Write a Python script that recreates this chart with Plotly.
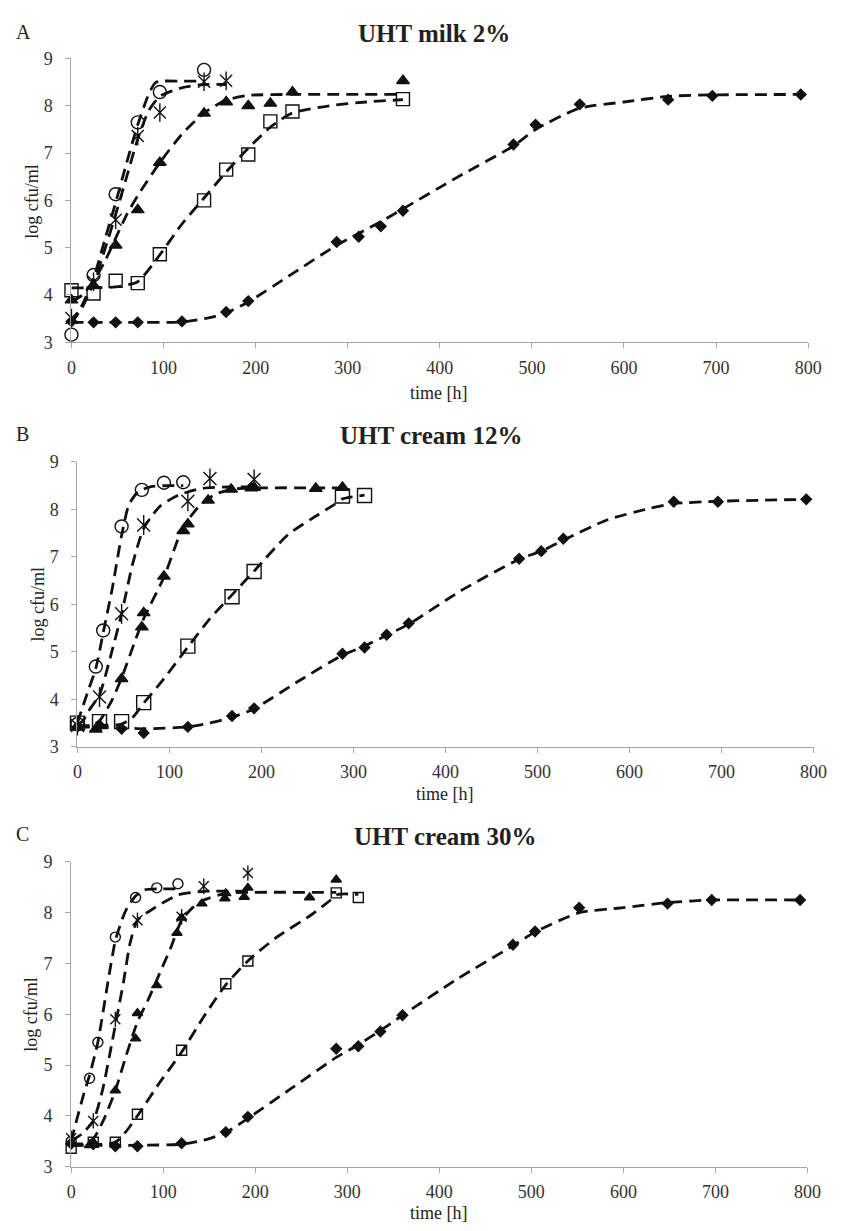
import plotly.graph_objects as go

W, H = 841, 1231

# ---------------- measured points: time [h], log cfu/ml ----------------
# Panel A: UHT milk 2%
A_circ_t = [0, 24, 48, 72, 96, 144]
A_circ_v = [3.16, 4.42, 6.13, 7.65, 8.29, 8.76]
A_star_t = [0, 24, 48, 72, 96, 144, 168]
A_star_v = [3.51, 4.28, 5.59, 7.36, 7.86, 8.51, 8.53]
A_tri_t = [0, 24, 48, 72, 96, 144, 168, 192, 216, 240, 360]
A_tri_v = [3.89, 4.20, 5.05, 5.80, 6.80, 7.84, 8.08, 8.00, 8.05, 8.29, 8.53]
A_sq_t = [0, 24, 48, 72, 96, 144, 168, 192, 216, 240, 360]
A_sq_v = [4.10, 4.03, 4.30, 4.25, 4.86, 6.00, 6.65, 6.97, 7.67, 7.88, 8.14]
A_dia_t = [0, 24, 48, 72, 120, 168, 192, 288, 312, 336, 360, 480, 504, 552, 648, 696, 792]
A_dia_v = [3.44, 3.42, 3.42, 3.42, 3.44, 3.64, 3.87, 5.12, 5.23, 5.45, 5.78, 7.18, 7.60, 8.03, 8.13, 8.21, 8.24]

# Panel A fitted curves
A_circ_fit_t = [0, 12, 24, 36, 48, 60, 72, 84, 92, 120, 144]
A_circ_fit_v = [3.40, 3.80, 4.35, 5.15, 5.95, 6.80, 7.60, 8.25, 8.50, 8.52, 8.52]
A_star_fit_t = [0, 12, 24, 36, 48, 60, 72, 84, 96, 120, 144, 168]
A_star_fit_v = [3.40, 3.75, 4.25, 4.95, 5.70, 6.50, 7.30, 7.90, 8.20, 8.38, 8.45, 8.45]
A_tri_fit_t = [0, 12, 24, 36, 48, 60, 72, 96, 120, 144, 168, 192, 240, 360]
A_tri_fit_v = [3.85, 4.00, 4.30, 4.70, 5.20, 5.70, 6.10, 6.80, 7.40, 7.85, 8.12, 8.22, 8.24, 8.24]
A_sq_fit_t = [0, 24, 48, 72, 96, 120, 144, 168, 192, 216, 240, 280, 320, 360]
A_sq_fit_v = [4.15, 4.15, 4.17, 4.28, 4.85, 5.50, 6.05, 6.60, 7.10, 7.55, 7.85, 8.00, 8.08, 8.13]
A_dia_fit_t = [0, 60, 120, 150, 168, 192, 240, 288, 336, 360, 420, 480, 504, 552, 600, 648, 696, 792]
A_dia_fit_v = [3.42, 3.42, 3.43, 3.52, 3.62, 3.85, 4.45, 5.05, 5.55, 5.82, 6.50, 7.15, 7.50, 7.95, 8.08, 8.20, 8.23, 8.24]

# Panel B: UHT cream 12%
B_circ_t = [0, 20, 28, 48, 70, 94, 115]
B_circ_v = [3.48, 4.69, 5.45, 7.64, 8.41, 8.56, 8.57]
B_star_t = [0, 24, 48, 72, 120, 144, 192]
B_star_v = [3.45, 4.05, 5.80, 7.67, 8.17, 8.65, 8.63]
B_tri_t = [0, 20, 24, 48, 70, 72, 94, 115, 120, 142, 167, 189, 192, 259, 288]
B_tri_v = [3.42, 3.37, 3.45, 4.43, 5.52, 5.82, 6.59, 7.55, 7.69, 8.19, 8.42, 8.45, 8.46, 8.44, 8.46]
B_sq_t = [0, 24, 48, 72, 120, 168, 192, 288, 312]
B_sq_v = [3.50, 3.53, 3.53, 3.93, 5.12, 6.16, 6.69, 8.28, 8.29]
B_dia_t = [0, 24, 48, 72, 120, 168, 192, 288, 312, 336, 360, 480, 504, 528, 648, 696, 792]
B_dia_v = [3.42, 3.45, 3.38, 3.29, 3.42, 3.65, 3.81, 4.96, 5.09, 5.36, 5.60, 6.96, 7.12, 7.38, 8.16, 8.16, 8.21]

# Panel B fitted curves
B_circ_fit_t = [0, 5, 12, 20, 28, 38, 48, 56, 66, 80, 100, 115]
B_circ_fit_v = [3.50, 3.80, 4.20, 4.65, 5.40, 6.35, 7.45, 8.10, 8.37, 8.48, 8.50, 8.50]
B_star_fit_t = [0, 6, 12, 24, 38, 48, 60, 72, 90, 110, 135, 165, 192]
B_star_fit_v = [3.45, 3.55, 3.75, 4.10, 5.05, 5.80, 6.85, 7.60, 8.07, 8.30, 8.44, 8.47, 8.47]
B_tri_fit_t = [0, 12, 24, 38, 48, 64, 72, 94, 112, 123, 134, 150, 167, 192, 288]
B_tri_fit_v = [3.42, 3.43, 3.55, 4.00, 4.45, 5.30, 5.70, 6.57, 7.50, 7.85, 8.10, 8.32, 8.42, 8.45, 8.45]
B_sq_fit_t = [0, 24, 48, 60, 72, 91, 120, 144, 168, 192, 229, 261, 279, 288, 312]
B_sq_fit_v = [3.45, 3.45, 3.48, 3.62, 3.92, 4.36, 5.10, 5.70, 6.20, 6.70, 7.47, 7.88, 8.10, 8.22, 8.30]
B_dia_fit_t = [0, 48, 72, 120, 144, 168, 192, 240, 288, 312, 336, 360, 417, 480, 504, 528, 576, 622, 648, 696, 792]
B_dia_fit_v = [3.42, 3.40, 3.38, 3.42, 3.50, 3.62, 3.80, 4.38, 4.93, 5.12, 5.35, 5.58, 6.29, 6.95, 7.12, 7.35, 7.78, 8.02, 8.12, 8.17, 8.21]

# Panel C: UHT cream 30%
C_circ_t = [0, 20, 29, 48, 70, 93, 116]
C_circ_v = [3.50, 4.74, 5.45, 7.52, 8.30, 8.49, 8.57]
C_star_t = [0, 24, 48, 72, 120, 144, 192]
C_star_v = [3.56, 3.90, 5.90, 7.85, 7.92, 8.52, 8.78]
C_tri_t = [0, 20, 24, 48, 70, 72, 93, 115, 120, 142, 167, 168, 188, 192, 259, 288]
C_tri_v = [3.48, 3.42, 3.48, 4.50, 5.52, 6.02, 6.57, 7.60, 7.90, 8.18, 8.28, 8.38, 8.31, 8.49, 8.30, 8.65]
C_sq_t = [0, 24, 48, 72, 120, 168, 192, 288, 312]
C_sq_v = [3.36, 3.48, 3.48, 4.03, 5.29, 6.60, 7.05, 8.39, 8.30]
C_dia_t = [0, 24, 48, 72, 120, 168, 192, 288, 312, 336, 360, 480, 504, 552, 648, 696, 792]
C_dia_v = [3.45, 3.44, 3.40, 3.40, 3.46, 3.68, 3.98, 5.32, 5.37, 5.66, 5.98, 7.37, 7.63, 8.10, 8.18, 8.25, 8.25]

# Panel C fitted curves
C_circ_fit_t = [0, 5, 14, 20, 29, 41, 48, 56, 61, 70, 80, 95, 116]
C_circ_fit_v = [3.50, 3.85, 4.45, 4.80, 5.45, 6.75, 7.45, 7.90, 8.10, 8.33, 8.45, 8.47, 8.47]
C_star_fit_t = [0, 12, 24, 34, 45, 57, 64, 72, 91, 116, 144, 192]
C_star_fit_v = [3.50, 3.65, 3.90, 4.50, 5.50, 6.65, 7.40, 7.85, 8.10, 8.35, 8.42, 8.42]
C_tri_fit_t = [0, 12, 24, 36, 48, 60, 72, 84, 96, 108, 120, 132, 144, 168, 192, 288]
C_tri_fit_v = [3.45, 3.45, 3.55, 3.95, 4.50, 5.20, 5.85, 6.30, 6.80, 7.30, 7.85, 8.10, 8.25, 8.38, 8.40, 8.40]
C_sq_fit_t = [0, 24, 48, 60, 72, 96, 121, 144, 168, 192, 222, 261, 282, 290, 312]
C_sq_fit_v = [3.42, 3.43, 3.48, 3.70, 4.00, 4.65, 5.28, 5.95, 6.58, 7.05, 7.50, 7.96, 8.25, 8.36, 8.36]
C_dia_fit_t = [0, 48, 72, 120, 144, 168, 192, 240, 288, 312, 336, 360, 420, 480, 504, 552, 600, 648, 696, 792]
C_dia_fit_v = [3.42, 3.42, 3.42, 3.44, 3.52, 3.67, 3.95, 4.55, 5.15, 5.40, 5.68, 5.98, 6.70, 7.35, 7.62, 8.00, 8.10, 8.20, 8.25, 8.25]

X_TICKS = [0, 100, 200, 300, 400, 500, 600, 700, 800]
Y_TICKS = [3, 4, 5, 6, 7, 8, 9]

SERIF = "Liberation Serif, Times New Roman, serif"
INK = "#231f20"
AXIS_GREY = "#a6a6a6"
LINE_DASH = "12px,7px"

fig = go.Figure()


def add_panel(ax, series, fits, sizes):
    xa, ya = ("x", "y") if ax == 1 else (f"x{ax}", f"y{ax}")
    for t, v in fits:
        fig.add_trace(go.Scatter(
            x=t, y=v, mode="lines", xaxis=xa, yaxis=ya,
            line=dict(color="#111111", width=2.8, dash=LINE_DASH, shape="spline", smoothing=0.6),
            hoverinfo="skip", cliponaxis=False))
    circ, star, tri, sq, dia = series
    s_circ, s_star, s_tri, s_sq, s_dia = sizes
    mk = lambda sym, size, fill: dict(symbol=sym, size=size, color=fill,
                                     line=dict(color="#111111", width=1.4))
    fig.add_trace(go.Scatter(x=dia[0], y=dia[1], mode="markers", xaxis=xa, yaxis=ya,
                             marker=mk("diamond", s_dia, "#111111"), cliponaxis=False))
    fig.add_trace(go.Scatter(x=sq[0], y=sq[1], mode="markers", xaxis=xa, yaxis=ya,
                             marker=mk("square-open", s_sq, "#111111"), cliponaxis=False))
    fig.add_trace(go.Scatter(x=tri[0], y=tri[1], mode="markers", xaxis=xa, yaxis=ya,
                             marker=mk("triangle-up", s_tri, "#111111"), cliponaxis=False))
    # six-armed asterisk: an X plus a vertical bar
    fig.add_trace(go.Scatter(x=star[0], y=star[1], mode="markers", xaxis=xa, yaxis=ya,
                             marker=mk("x-thin-open", s_star, "#111111"), cliponaxis=False))
    fig.add_trace(go.Scatter(x=star[0], y=star[1], mode="markers", xaxis=xa, yaxis=ya,
                             marker=mk("line-ns-open", s_star * 1.1, "#111111"), cliponaxis=False))
    fig.add_trace(go.Scatter(x=circ[0], y=circ[1], mode="markers", xaxis=xa, yaxis=ya,
                             marker=mk("circle-open", s_circ, "#111111"), cliponaxis=False))


add_panel(1,
          [(A_circ_t, A_circ_v), (A_star_t, A_star_v), (A_tri_t, A_tri_v),
           (A_sq_t, A_sq_v), (A_dia_t, A_dia_v)],
          [(A_circ_fit_t, A_circ_fit_v), (A_star_fit_t, A_star_fit_v), (A_tri_fit_t, A_tri_fit_v),
           (A_sq_fit_t, A_sq_fit_v), (A_dia_fit_t, A_dia_fit_v)],
          (13, 12, 11, 13, 8))
add_panel(2,
          [(B_circ_t, B_circ_v), (B_star_t, B_star_v), (B_tri_t, B_tri_v),
           (B_sq_t, B_sq_v), (B_dia_t, B_dia_v)],
          [(B_circ_fit_t, B_circ_fit_v), (B_star_fit_t, B_star_fit_v), (B_tri_fit_t, B_tri_fit_v),
           (B_sq_fit_t, B_sq_fit_v), (B_dia_fit_t, B_dia_fit_v)],
          (13, 13, 11, 14, 8))
add_panel(3,
          [(C_circ_t, C_circ_v), (C_star_t, C_star_v), (C_tri_t, C_tri_v),
           (C_sq_t, C_sq_v), (C_dia_t, C_dia_v)],
          [(C_circ_fit_t, C_circ_fit_v), (C_star_fit_t, C_star_fit_v), (C_tri_fit_t, C_tri_fit_v),
           (C_sq_fit_t, C_sq_fit_v), (C_dia_fit_t, C_dia_fit_v)],
          (10, 10, 9, 10, 8))


def px_x(p):
    return p / W


def px_y(p):
    return 1 - p / H


# plot-area boxes in pixels: (left, right, top, bottom)
boxes = {1: (68.0, 821.7, 49.3, 337.7),
         2: (74.1, 827.3, 459.3, 749.0),
         3: (67.7, 821.0, 866.0, 1175.7)}

axis_common = dict(showline=True, linecolor=AXIS_GREY, linewidth=1, ticks="outside",
                   ticklen=5, tickwidth=1, tickcolor=AXIS_GREY, showgrid=False,
                   zeroline=False, tickfont=dict(family=SERIF, size=18, color="#333333"),
                   fixedrange=True)

layout_axes = {}
for k, (l, r, t, b) in boxes.items():
    xn = "xaxis" if k == 1 else f"xaxis{k}"
    yn = "yaxis" if k == 1 else f"yaxis{k}"
    ya = "y" if k == 1 else f"y{k}"
    xa = "x" if k == 1 else f"x{k}"
    layout_axes[xn] = dict(axis_common, domain=[px_x(l), px_x(r)], range=[0, 800],
                           tickvals=X_TICKS, anchor=ya, ticklabelstandoff=4)
    layout_axes[yn] = dict(axis_common, domain=[px_y(b), px_y(t)], range=[3, 9],
                           tickvals=Y_TICKS, anchor=xa, ticklabelstandoff=9)

fig.update_layout(width=W, height=H, margin=dict(l=0, r=0, t=0, b=0),
                  paper_bgcolor="white", plot_bgcolor="white", showlegend=False,
                  **layout_axes)

texts = [
    # (text, x px, y px, xanchor, size, bold, angle)
    ("A", 10, 22.5, "left", 20, False, 0),
    ("UHT milk 2%", 439, 23.5, "center", 25, True, 0),
    ("log cfu/ml", 27.5, 194, "center", 18, False, -90),
    ("time [h]", 444, 389, "center", 18, False, 0),
    ("B", 10, 430.5, "left", 20, False, 0),
    ("UHT cream 12%", 436, 433, "center", 25, True, 0),
    ("log cfu/ml", 34, 604, "center", 18, False, -90),
    ("time [h]", 450, 797, "center", 18, False, 0),
    ("C", 10, 837.5, "left", 20, False, 0),
    ("UHT cream 30%", 450, 840, "center", 25, True, 0),
    ("log cfu/ml", 27, 1021, "center", 18, False, -90),
    ("time [h]", 444, 1222.5, "center", 18, False, 0),
]
for txt, x, y, xanc, size, bold, ang in texts:
    fig.add_annotation(text=f"<b>{txt}</b>" if bold else txt, x=px_x(x), y=px_y(y),
                       xref="paper", yref="paper", xanchor=xanc, yanchor="middle",
                       showarrow=False, textangle=ang, borderpad=0,
                       font=dict(family=SERIF, size=size, color=INK))

fig.write_html("out.html")
